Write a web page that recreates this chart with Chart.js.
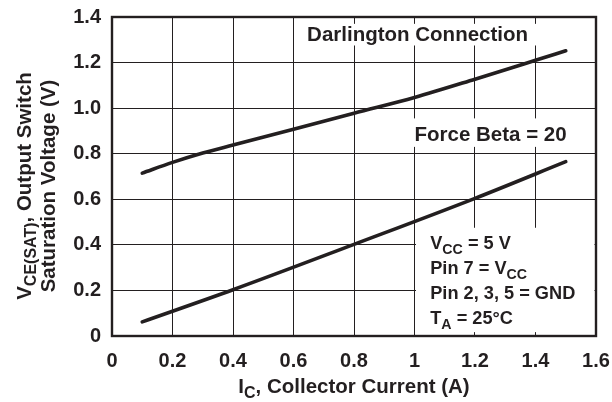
<!DOCTYPE html>
<html>
<head>
<meta charset="utf-8">
<script src="https://cdn.jsdelivr.net/npm/chart.js@4"></script>
<style>
html,body{margin:0;padding:0;background:#fff;}
#wrap{width:612px;height:402px;}
</style>
</head>
<body>
<div id="wrap"><canvas id="c" width="612" height="402"></canvas></div>
<script>
// ---- data ----
const currentDarlington = [0.1, 0.2, 0.3, 0.4, 0.6, 0.8, 1.0, 1.2, 1.4, 1.5];
const vsatDarlington    = [0.715, 0.762, 0.803, 0.838, 0.907, 0.978, 1.047, 1.127, 1.210, 1.252];
const currentForceBeta  = [0.1, 0.4, 0.8, 1.2, 1.5];
const vsatForceBeta     = [0.062, 0.203, 0.402, 0.604, 0.765];
const xTicks = [0, 0.2, 0.4, 0.6, 0.8, 1, 1.2, 1.4, 1.6];
const yTicks = [0, 0.2, 0.4, 0.6, 0.8, 1.0, 1.2, 1.4];
const labelDarlington = 'Darlington Connection';
const labelForceBeta = 'Force Beta = 20';
const conditions = [
  [{t:'V'},{t:'CC',sub:true},{t:' = 5 V'}],
  [{t:'Pin 7 = V'},{t:'CC',sub:true}],
  [{t:'Pin 2, 3, 5 = GND'}],
  [{t:'T'},{t:'A',sub:true},{t:' = 25\u00B0C'}]
];
const xTitle = [{t:'I'},{t:'C',sub:true},{t:', Collector Current (A)'}];
const yTitle1 = [{t:'V'},{t:'CE(SAT)',sub:true},{t:', Output Switch'}];
const yTitle2 = [{t:'Saturation Voltage (V)'}];

const INK = '#231f20';
const FAM = 'Arial, "Liberation Sans", sans-serif';

function richWidth(ctx, segs, size){
  let w = 0;
  segs.forEach(s => {
    ctx.font = 'bold ' + (s.sub ? size*0.78 : size) + 'px ' + FAM;
    w += ctx.measureText(s.t).width;
  });
  return w;
}
function drawRich(ctx, segs, x, y, size, align){
  const w = richWidth(ctx, segs, size);
  let cx = align === 'center' ? x - w/2 : (align === 'right' ? x - w : x);
  ctx.textAlign = 'left';
  ctx.textBaseline = 'alphabetic';
  ctx.fillStyle = INK;
  segs.forEach(s => {
    const fs = s.sub ? size*0.78 : size;
    ctx.font = 'bold ' + fs + 'px ' + FAM;
    ctx.fillText(s.t, cx, y + (s.sub ? size*0.25 : 0));
    cx += ctx.measureText(s.t).width;
  });
}

const decor = {
  id: 'decor',
  beforeDatasetsDraw(chart){
    const ctx = chart.ctx, xs = chart.scales.x, ys = chart.scales.y;
    ctx.save();
    ctx.fillStyle = '#fff';
    const box = (x0,x1,y0,y1) => {
      const px0 = xs.getPixelForValue(x0), px1 = xs.getPixelForValue(x1);
      const py0 = ys.getPixelForValue(y0), py1 = ys.getPixelForValue(y1);
      ctx.fillRect(px0, py1, px1-px0, py0-py1);
    };
    box(0.62, 1.405, 1.275, 1.37);
    box(0.985, 1.52, 0.83, 0.955);
    box(1.005, 1.595, 0.017, 0.475);
    ctx.restore();
  },
  afterDraw(chart){
    const ctx = chart.ctx, a = chart.chartArea, xs = chart.scales.x, ys = chart.scales.y;
    ctx.save();
    drawRich(ctx, [{t:labelDarlington}], xs.getPixelForValue(0.645), ys.getPixelForValue(1.295), 20.5, 'left');
    drawRich(ctx, [{t:labelForceBeta}], xs.getPixelForValue(1.0), ys.getPixelForValue(0.857), 20.5, 'left');
    conditions.forEach((segs, i) => {
      drawRich(ctx, segs, xs.getPixelForValue(1.052), 249 + i*25, 18.2, 'left');
    });
    drawRich(ctx, xTitle, (a.left + a.right)/2, 393, 20.5, 'center');
    const cy = 186;
    ctx.save(); ctx.translate(31, cy); ctx.rotate(-Math.PI/2);
    drawRich(ctx, yTitle1, 0, 0, 20.5, 'center'); ctx.restore();
    ctx.save(); ctx.translate(55, cy); ctx.rotate(-Math.PI/2);
    drawRich(ctx, yTitle2, 0, 0, 20.5, 'center'); ctx.restore();
    ctx.strokeStyle = INK; ctx.lineWidth = 2.4;
    ctx.strokeRect(a.left, a.top, a.right - a.left, a.bottom - a.top);
    ctx.restore();
  }
};

const fmtNum = v => { const r = Math.round(v*10)/10; return String(r); };

new Chart(document.getElementById('c'), {
  type: 'line',
  data: {
    datasets: [
      { data: currentDarlington.map((x,i)=>({x, y: vsatDarlington[i]})),
        borderColor: INK, borderWidth: 3.6, pointRadius: 0, borderCapStyle: 'round',
        cubicInterpolationMode: 'monotone', fill: false },
      { data: currentForceBeta.map((x,i)=>({x, y: vsatForceBeta[i]})),
        borderColor: INK, borderWidth: 3.6, pointRadius: 0, borderCapStyle: 'round',
        cubicInterpolationMode: 'monotone', fill: false }
    ]
  },
  options: {
    responsive: false, animation: false, devicePixelRatio: 1,
    layout: { padding: { left: 0, top: 17, right: 16, bottom: 0 } },
    plugins: { legend: { display: false }, tooltip: { enabled: false }, title: { display: false } },
    scales: {
      x: {
        type: 'linear', min: 0, max: 1.6,
        afterBuildTicks: s => { s.ticks = xTicks.map(v => ({value: v})); },
        afterFit: s => { s.height = 66; s.paddingLeft = 0; s.paddingRight = 0; },
        grid: { color: INK, lineWidth: 1, drawTicks: false },
        border: { display: true, color: INK, width: 2 },
        ticks: { padding: 13, color: INK, font: { family: FAM, size: 20, weight: 'bold' },
                 maxRotation: 0, autoSkip: false, callback: v => fmtNum(v) }
      },
      y: {
        type: 'linear', min: 0, max: 1.4,
        afterBuildTicks: s => { s.ticks = yTicks.map(v => ({value: v})); },
        afterFit: s => { s.width = 112; s.paddingTop = 0; s.paddingBottom = 0; },
        grid: { color: INK, lineWidth: 1, drawTicks: false },
        border: { display: true, color: INK, width: 2 },
        ticks: { padding: 11, color: INK, font: { family: FAM, size: 20, weight: 'bold' },
                 autoSkip: false, callback: v => v === 0 ? '0' : v.toFixed(1) }
      }
    }
  },
  plugins: [decor]
});
</script>
</body>
</html>
